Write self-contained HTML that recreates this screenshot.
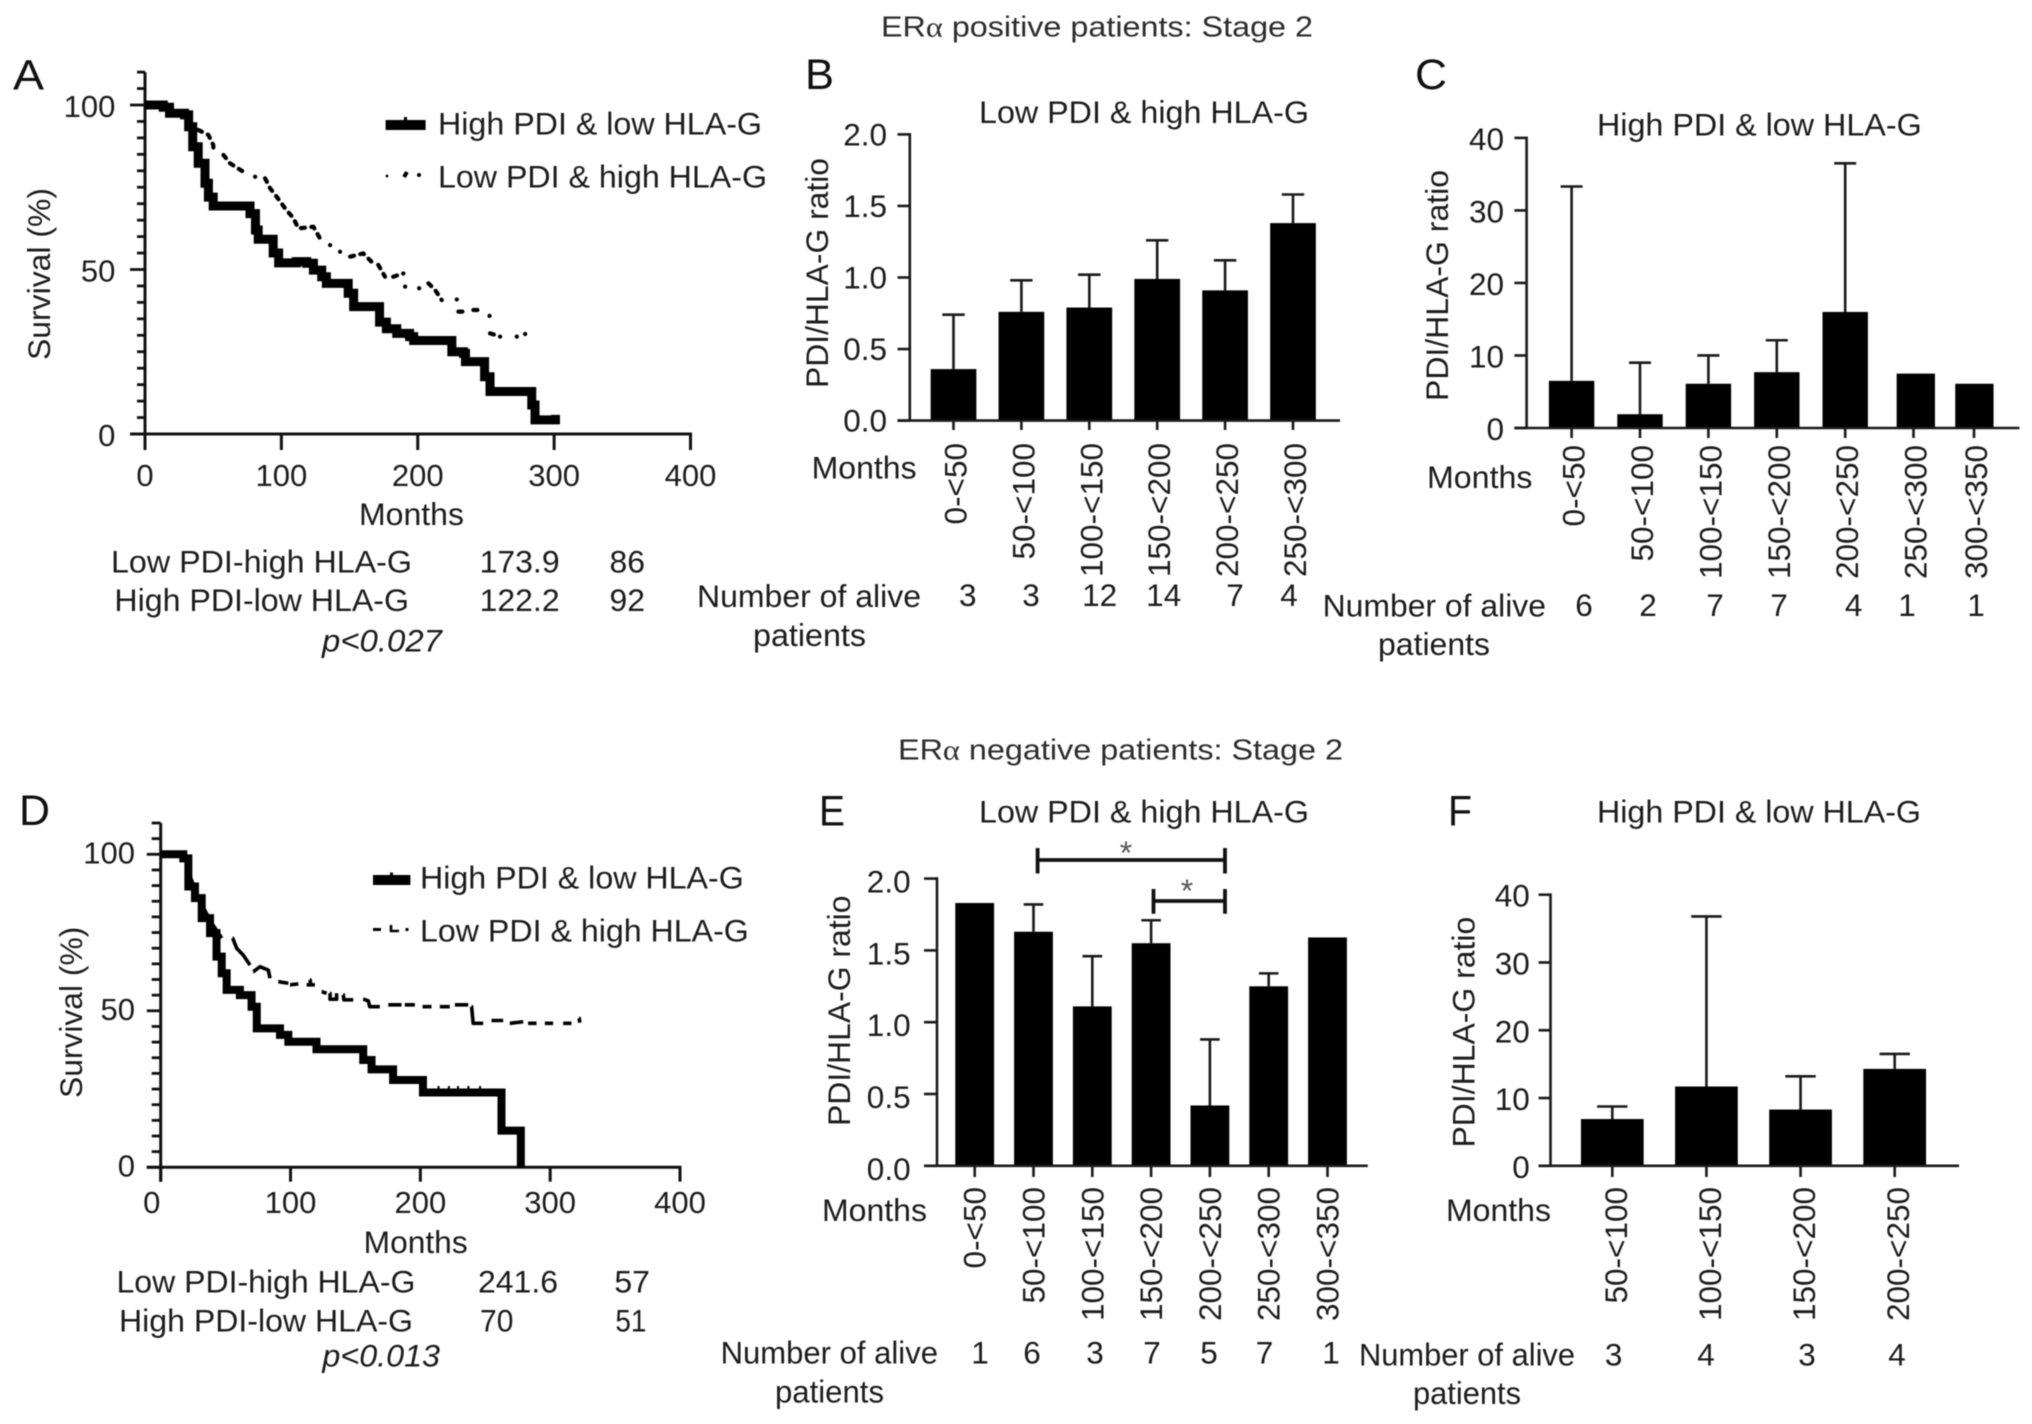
<!DOCTYPE html>
<html lang="en">
<head>
<meta charset="utf-8">
<title>ERα patients Stage 2: survival and PDI/HLA-G ratio</title>
<style>
html,body{margin:0;padding:0;background:#fff;width:2032px;height:1424px;overflow:hidden}
svg{display:block;filter:blur(0.5px)}
text{font-family:"Liberation Sans",Arial,sans-serif;font-size:31.5px;fill:#1c1c1c}
.hdr{fill:#2c2c2c;font-size:29px}
.let{font-size:43px;fill:#111}
.it{font-style:italic}
.n{text-anchor:middle}
.gk{font-family:"Liberation Serif",serif}
.star{font-size:32px;fill:#555;text-anchor:middle}
</style>
</head>
<body>
<svg id="figure" width="2032" height="1424" viewBox="0 0 2032 1424">
<rect x="0" y="0" width="2032" height="1424" fill="#fff"/>

<text class="hdr" x="881" y="36.4" textLength="432" lengthAdjust="spacingAndGlyphs">ER<tspan class="gk">α</tspan> positive patients: Stage 2</text>
<text class="hdr" x="898" y="759.5" textLength="445" lengthAdjust="spacingAndGlyphs">ER<tspan class="gk">α</tspan> negative patients: Stage 2</text>

<!-- Panel A -->
<g id="panel-a">
<text class="let" x="13" y="89.3" textLength="31" lengthAdjust="spacingAndGlyphs">A</text>
<text transform="translate(50,360) rotate(-90)" textLength="172" lengthAdjust="spacingAndGlyphs">Survival (%)</text>
<text x="359" y="525" textLength="105" lengthAdjust="spacingAndGlyphs">Months</text>
<rect x="385.6" y="120" width="40" height="10" fill="#000"/>
<rect x="404" y="117" width="3" height="4" fill="#000"/>
<text x="438" y="134.3" textLength="324" lengthAdjust="spacingAndGlyphs">High PDI &amp; low HLA-G</text>
<circle cx="387" cy="176" r="1.4" fill="#000"/>
<path d="M404 177 L407 172" stroke="#000" stroke-width="4" fill="none"/>
<circle cx="419" cy="175" r="2" fill="#000"/>
<text x="438" y="187.7" textLength="329" lengthAdjust="spacingAndGlyphs">Low PDI &amp; high HLA-G</text>
<text x="111" y="572.3" textLength="301" lengthAdjust="spacingAndGlyphs">Low PDI-high HLA-G</text>
<text x="479.6" y="572.3" textLength="80" lengthAdjust="spacingAndGlyphs">173.9</text>
<text x="609.5" y="572.3" textLength="35.5" lengthAdjust="spacingAndGlyphs">86</text>
<text x="114.4" y="611" textLength="294.6" lengthAdjust="spacingAndGlyphs">High PDI-low HLA-G</text>
<text x="479.6" y="611" textLength="80" lengthAdjust="spacingAndGlyphs">122.2</text>
<text x="609.5" y="611" textLength="35.5" lengthAdjust="spacingAndGlyphs">92</text>
<text class="it" x="322" y="651.7" textLength="120" lengthAdjust="spacingAndGlyphs">p&lt;0.027</text>
</g>

<!-- Panel B -->
<g id="panel-b">
<text class="let" x="805" y="89" textLength="29" lengthAdjust="spacingAndGlyphs">B</text>
<text x="979" y="123" textLength="330" lengthAdjust="spacingAndGlyphs">Low PDI &amp; high HLA-G</text>
<text transform="translate(828,388) rotate(-90)" textLength="230" lengthAdjust="spacingAndGlyphs">PDI/HLA-G ratio</text>
<text x="811.6" y="478.3" textLength="105" lengthAdjust="spacingAndGlyphs">Months</text>
<text x="697" y="607" textLength="224" lengthAdjust="spacingAndGlyphs">Number of alive</text>
<text x="753" y="646" textLength="113" lengthAdjust="spacingAndGlyphs">patients</text>
<text class="n" x="967.8" y="606">3</text>
<text class="n" x="1031" y="606">3</text>
<text class="n" x="1099.6" y="606">12</text>
<text class="n" x="1163.7" y="606">14</text>
<text class="n" x="1235" y="606">7</text>
<text class="n" x="1289" y="606">4</text>
</g>

<!-- Panel C -->
<g id="panel-c">
<text class="let" x="1415" y="89" textLength="32" lengthAdjust="spacingAndGlyphs">C</text>
<text x="1597" y="135.7" textLength="324.7" lengthAdjust="spacingAndGlyphs">High PDI &amp; low HLA-G</text>
<text transform="translate(1448,401) rotate(-90)" textLength="231" lengthAdjust="spacingAndGlyphs">PDI/HLA-G ratio</text>
<text x="1427" y="488" textLength="105.5" lengthAdjust="spacingAndGlyphs">Months</text>
<text x="1322.6" y="616.5" textLength="223.4" lengthAdjust="spacingAndGlyphs">Number of alive</text>
<text x="1378" y="655" textLength="112" lengthAdjust="spacingAndGlyphs">patients</text>
<text class="n" x="1584" y="616">6</text>
<text class="n" x="1648" y="616">2</text>
<text class="n" x="1715" y="616">7</text>
<text class="n" x="1779" y="616">7</text>
<text class="n" x="1853.6" y="616">4</text>
<text class="n" x="1907" y="616">1</text>
<text class="n" x="1976" y="616">1</text>
</g>

<!-- Panel D -->
<g id="panel-d">
<text class="let" x="19" y="825" textLength="31" lengthAdjust="spacingAndGlyphs">D</text>
<text transform="translate(82,1098) rotate(-90)" textLength="171.3" lengthAdjust="spacingAndGlyphs">Survival (%)</text>
<text x="363.7" y="1253" textLength="104" lengthAdjust="spacingAndGlyphs">Months</text>
<rect x="373" y="875" width="37.4" height="10" fill="#000"/>
<rect x="390" y="872.5" width="3" height="3" fill="#000"/>
<text x="420" y="888.3" textLength="323.8" lengthAdjust="spacingAndGlyphs">High PDI &amp; low HLA-G</text>
<rect x="373" y="928" width="8" height="3" fill="#000"/>
<path d="M391 925 V931 H399" stroke="#000" stroke-width="2.6" fill="none"/>
<rect x="405.5" y="928" width="3" height="3" fill="#000"/>
<text x="420" y="941.7" textLength="328.8" lengthAdjust="spacingAndGlyphs">Low PDI &amp; high HLA-G</text>
<text x="116.5" y="1292.7" textLength="298.9" lengthAdjust="spacingAndGlyphs">Low PDI-high HLA-G</text>
<text x="478" y="1292.7" textLength="80" lengthAdjust="spacingAndGlyphs">241.6</text>
<text x="614.4" y="1292.7" textLength="35.6" lengthAdjust="spacingAndGlyphs">57</text>
<text x="119" y="1331.7" textLength="294" lengthAdjust="spacingAndGlyphs">High PDI-low HLA-G</text>
<text x="480" y="1331.7" textLength="33.4" lengthAdjust="spacingAndGlyphs">70</text>
<text x="615.4" y="1331.7" textLength="31" lengthAdjust="spacingAndGlyphs">51</text>
<text class="it" x="322.4" y="1366.7" textLength="117.6" lengthAdjust="spacingAndGlyphs">p&lt;0.013</text>
</g>

<!-- Panel E -->
<g id="panel-e">
<text class="let" x="819" y="825.6" textLength="26" lengthAdjust="spacingAndGlyphs">E</text>
<text x="979" y="822.7" textLength="330" lengthAdjust="spacingAndGlyphs">Low PDI &amp; high HLA-G</text>
<text transform="translate(850,1126) rotate(-90)" textLength="230.5" lengthAdjust="spacingAndGlyphs">PDI/HLA-G ratio</text>
<text x="822" y="1220.8" textLength="105" lengthAdjust="spacingAndGlyphs">Months</text>
<path d="M1037.6 848 V873.5 M1037.6 860 H1225 M1225 848 V873.5" stroke="#111" stroke-width="3.8" fill="none"/>
<text class="star" x="1126" y="864">*</text>
<path d="M1153.5 889 V913.7 M1153.5 901 H1225 M1225 889 V913.7" stroke="#111" stroke-width="3.8" fill="none"/>
<text class="star" x="1187" y="902">*</text>
<text x="720.6" y="1363.6" textLength="217.4" lengthAdjust="spacingAndGlyphs">Number of alive</text>
<text x="775" y="1402.7" textLength="109" lengthAdjust="spacingAndGlyphs">patients</text>
<text class="n" x="980" y="1363.6">1</text>
<text class="n" x="1032" y="1363.6">6</text>
<text class="n" x="1095" y="1363.6">3</text>
<text class="n" x="1152" y="1363.6">7</text>
<text class="n" x="1209" y="1363.6">5</text>
<text class="n" x="1264.5" y="1363.6">7</text>
<text class="n" x="1331" y="1363.6">1</text>
</g>

<!-- Panel F -->
<g id="panel-f">
<text class="let" x="1448" y="825.6" textLength="24" lengthAdjust="spacingAndGlyphs">F</text>
<text x="1597" y="822.7" textLength="324" lengthAdjust="spacingAndGlyphs">High PDI &amp; low HLA-G</text>
<text transform="translate(1474.6,1147.5) rotate(-90)" textLength="230.8" lengthAdjust="spacingAndGlyphs">PDI/HLA-G ratio</text>
<text x="1446" y="1220.8" textLength="105" lengthAdjust="spacingAndGlyphs">Months</text>
<text x="1359" y="1365.7" textLength="216" lengthAdjust="spacingAndGlyphs">Number of alive</text>
<text x="1413" y="1403.8" textLength="108" lengthAdjust="spacingAndGlyphs">patients</text>
<text class="n" x="1613.6" y="1365.7">3</text>
<text class="n" x="1706" y="1365.7">4</text>
<text class="n" x="1807" y="1365.7">3</text>
<text class="n" x="1897" y="1365.7">4</text>
</g>
</svg>

<script>
/* ---------- Survival data (months, percent); null starts a new visible fragment ---------- */
const kmXTicks = [0, 100, 200, 300, 400];
const kmXTickLabels = ['0', '100', '200', '300', '400'];
const kmYTicks = [0, 5, 10, 15, 20, 25, 30, 35, 40, 45, 50, 55, 60, 65, 70, 75, 80, 85, 90, 95, 100, 105, 110];
const kmYMajorTicks = [0, 50, 100];
const kmYTickLabels = ['0', '50', '100'];

const panelAHighMonths = [0, 13.4, 18, 29, 32, 35, 39, 44, 46.5, 50, 73, 77, 81, 83, 92, 94, 98, 111, 118.6, 123.5, 129.6, 133, 146.7, 149, 153, 168.7, 172, 177, 184.6, 194, 197, 222.5, 225, 233.5, 235, 249, 249, 253, 281, 283.6, 286, 298, 301];
const panelAHighSurvival = [100, 99.3, 97.5, 97, 93.4, 87.3, 82.3, 76.2, 72, 69.3, 69.3, 67, 62, 59.2, 59.2, 55, 52, 52.4, 51.9, 49.8, 47.8, 45.8, 45.8, 42.8, 38.7, 38.7, 34, 32, 30.6, 29.6, 28.4, 28.4, 25, 24.5, 22, 22, 17.4, 12.9, 12.9, 8.8, 4.3, 4.3, 5.8];
const panelALowMonths = [39.1, 46.5, 50.1, 50.1, null, 57.5, 62.3, 73.3, null, 80.7, null, 88, 91.7, 96.6, 102.7, 108.8, 112.5, 123.5, 129.6, null, 135.7, null, 143, null, 150.4, 160, 166, null, 171, 176, null, 182, 189.5, null, 190.7, null, 201, null, 207.8, 212.7, 217.6, null, 228.6, null, 229.8, 236, null, 240.8, 244.5, null, 252.6, null, 253, 260.4, null, 272.6, null, 278.7];
const panelALowSurvival = [92.4, 90.9, 87.8, 85.3, null, 84.8, 82.3, 79.4, null, 78.2, null, 77.7, 74.7, 72.1, 68.6, 65.6, 62.5, 63, 58.5, null, 57.4, null, 55.4, null, 53.9, 54.9, 52.4, null, 51.4, 47.8, null, 47.8, 48.8, null, 44.8, null, 44.3, null, 45.8, 43.8, 40.7, null, 40.9, null, 37.2, 37.2, null, 37.7, 37.7, null, 35.9, null, 30.6, 29.6, null, 29.6, null, 30.4];

const panelDHighMonths = [0, 16.2, 17.4, 21.3, 21.3, 26.4, 31.6, 38, 43, 47, 50.8, 61, 70, 74, 89.3, 91.9, 98.3, 98.3, 120, 120, 153.5, 156, 162.4, 162.4, 179, 179, 202, 202, 262.5, 262.5, 277.4, 277.4];
const panelDHighSurvival = [100, 100, 98.7, 96.6, 89.7, 86, 79.6, 74.8, 67.3, 62, 56.7, 55, 51.3, 44.4, 44.4, 42.3, 42.3, 40.1, 40.1, 37.7, 37.7, 34.3, 34.3, 31.3, 31.3, 27.9, 27.9, 23.9, 23.9, 11.7, 11.7, 0];
const panelDHighCensorMonths = [214, 222, 229, 237, 246];
const panelDHighCensorSurvival = [23.9, 23.9, 23.9, 23.9, 23.9];
const panelDLowMonths = [22, 30.3, 39.3, 47, null, 55.4, 58.5, 63.6, 68.8, null, 71.3, 76.5, 82.9, 84.2, null, 90.6, 98.3, null, 99.6, 106, null, 112.4, 118.8, null, 115, 115.5, null, 124, 127.8, null, 130.4, 130.4, 135.5, 135.5, null, 140.6, 141.1, 148.3, null, 156, 159.9, 161, 168.8, null, 175.3, 185.5, null, 188, 195.8, null, 201.7, 208.6, null, 215, 222.7, null, 226.6, 236.9, null, 239.4, 240.7, 248.4, null, 254.8, 263.8, null, 268.9, 279.2, null, 283, 289.5, null, 295.9, 302.3, null, 310, 316.4, null, 322.3, 322.8];
const panelDLowSurvival = [93.5, 84.9, 78, 73.2, null, 73.2, 70, 67.8, 64.6, null, 62.5, 64.1, 63, 60.4, null, 59.3, 58.8, null, 58.3, 58.6, null, 58.3, 58.3, null, 59.9, 58.3, null, 56.1, 55.6, null, 55.6, 53.7, 53.7, 55.6, null, 55.1, 53.5, 53.5, null, 53.7, 53.2, 51.3, 51.3, null, 51.9, 51.9, null, 51.9, 51.9, null, 51.3, 51.3, null, 51.3, 51.3, null, 51.9, 51.9, null, 51.3, 46, 46, null, 46.9, 46.9, null, 46, 46.5, null, 46, 46, null, 46, 46, null, 46, 46, null, 47.6, 46.2];

/* ---------- Bar data ---------- */
const ratioTicks = [0, 0.5, 1, 1.5, 2];
const ratioTickLabels = ['0.0', '0.5', '1.0', '1.5', '2.0'];
const wideTicks = [0, 10, 20, 30, 40];
const wideTickLabels = ['0', '10', '20', '30', '40'];

const panelBCategories = ['0-<50', '50-<100', '100-<150', '150-<200', '200-<250', '250-<300'];
const panelBMeans = [0.36, 0.76, 0.79, 0.99, 0.91, 1.38];
const panelBUpper = [0.74, 0.98, 1.02, 1.26, 1.12, 1.58];

const panelCCategories = ['0-<50', '50-<100', '100-<150', '150-<200', '200-<250', '250-<300', '300-<350'];
const panelCMeans = [6.5, 1.9, 6.1, 7.7, 16, 7.5, 6.1];
const panelCUpper = [33.3, 9, 10, 12.1, 36.5, null, null];

const panelECategories = ['0-<50', '50-<100', '100-<150', '150-<200', '200-<250', '250-<300', '300-<350'];
const panelEMeans = [1.83, 1.63, 1.11, 1.55, 0.42, 1.25, 1.59];
const panelEUpper = [null, 1.82, 1.46, 1.71, 0.88, 1.34, null];

const panelFCategories = ['50-<100', '100-<150', '150-<200', '200-<250'];
const panelFMeans = [6.9, 11.7, 8.3, 14.3];
const panelFUpper = [8.75, 36.8, 13.2, 16.5];

/* ---------- Helpers ---------- */
const SVG_NS = 'http://www.w3.org/2000/svg';
function mk(parent, tag, attrs) {
  const el = document.createElementNS(SVG_NS, tag);
  for (const k in attrs) el.setAttribute(k, attrs[k]);
  parent.appendChild(el);
  return el;
}
function linear(d0, d1, r0, r1) {
  return function (v) { return r0 + (v - d0) * (r1 - r0) / (d1 - d0); };
}

/* ---------- Kaplan-Meier axes and lines ---------- */
function drawKmAxes(g, cfg) {
  const x = cfg.x, y = cfg.y;
  const yAxis = mk(g, 'line', {x1: x(0), x2: x(0), y1: y(110), y2: cfg.tickBottom, stroke: '#111', 'stroke-width': 3});
  
  
  const xAxis = mk(g, 'line', {x1: cfg.majorLeft, x2: x(400) + 1.5, y1: y(0), y2: y(0), stroke: '#111', 'stroke-width': 3});
  
  
  kmYTicks.forEach(function (v) {
    const isMajor = kmYMajorTicks.indexOf(v) >= 0;
    const tick = mk(g, 'line', {x1: isMajor ? cfg.majorLeft : cfg.minorLeft, x2: x(0), y1: y(v), y2: y(v), stroke: '#111', 'stroke-width': 2.8});
    
    
  });
  kmYMajorTicks.forEach(function (v, i) {
    const label = mk(g, 'text', {x: cfg.labelRight, y: y(v) + cfg.labelDy, 'text-anchor': 'end', style: 'font-size:31px'});
    label.textContent = kmYTickLabels[i];
    
    
  });
  kmXTicks.forEach(function (v, i) {
    const tick = mk(g, 'line', {x1: x(v), x2: x(v), y1: y(0), y2: cfg.tickBottom, stroke: '#111', 'stroke-width': 3});
    
    
    const shift = v === 0 ? cfg.zeroShift : 0;
    const label = mk(g, 'text', {x: x(v) + shift, y: cfg.xLabelBase, 'text-anchor': 'middle', style: 'font-size:31px'});
    label.textContent = kmXTickLabels[i];
    
    
  });
}
/* Straight fragments for the sparse curves; step-after for the solid Kaplan-Meier curves. */
function kmPath(cfg, months, survival, stepped) {
  let d = '', start = true, prevY = 0;
  months.forEach(function (m, i) {
    if (m === null || survival[i] === null) { start = true; return; }
    const px = cfg.x(m).toFixed(2), py = cfg.y(survival[i]).toFixed(2);
    if (start) { d += 'M' + px + ' ' + py + ' h0.1 '; start = false; }
    else if (stepped) { d += 'L' + px + ' ' + prevY + ' L' + px + ' ' + py + ' '; }
    else { d += 'L' + px + ' ' + py + ' '; }
    prevY = py;
  });
  return d;
}

const kmA = {
  x: linear(0, 400, 145, 690.5), y: linear(0, 100, 434, 105),
  majorLeft: 130, minorLeft: 137, tickBottom: 450,
  labelRight: 115.4, labelDy: 12, xLabelBase: 486, zeroShift: 0
};
const kmD = {
  x: linear(0, 400, 160.7, 680), y: linear(0, 100, 1167.3, 854.3),
  majorLeft: 146.8, minorLeft: 151.7, tickBottom: 1181.7,
  labelRight: 135, labelDy: 9, xLabelBase: 1213, zeroShift: -9
};

const groupA = document.getElementById('panel-a');
drawKmAxes(groupA, kmA);
const lowLineA = mk(groupA, 'path', {d: kmPath(kmA, panelALowMonths, panelALowSurvival, false), fill: 'none', stroke: '#000', 'stroke-width': 4.2, 'stroke-linecap': 'round', 'stroke-linejoin': 'round', 'stroke-dasharray': '4 6.5'});


const highLineA = mk(groupA, 'path', {d: kmPath(kmA, panelAHighMonths, panelAHighSurvival, true), fill: 'none', stroke: '#000', 'stroke-width': 9, 'stroke-linejoin': 'miter'});



const groupD = document.getElementById('panel-d');
drawKmAxes(groupD, kmD);
const lowLineD = mk(groupD, 'path', {d: kmPath(kmD, panelDLowMonths, panelDLowSurvival, false), fill: 'none', stroke: '#000', 'stroke-width': 3.6, 'stroke-linejoin': 'round'});


const highLineD = mk(groupD, 'path', {d: kmPath(kmD, panelDHighMonths, panelDHighSurvival, true), fill: 'none', stroke: '#000', 'stroke-width': 8, 'stroke-linejoin': 'miter'});


panelDHighCensorMonths.forEach(function (m, i) {
  const mark = mk(groupD, 'line', {x1: kmD.x(m), x2: kmD.x(m), y1: kmD.y(panelDHighCensorSurvival[i]), y2: kmD.y(panelDHighCensorSurvival[i]) - 6.5, stroke: '#000', 'stroke-width': 2});
  
  
});

/* ---------- Bar panels ---------- */
function drawBarPanel(g, cfg, categories, means, upper, ticks, tickLabels) {
  const y = cfg.y;
  means.forEach(function (v, i) {
    const w = cfg.barWidth(i), cx = cfg.barCenter(i);
    if (upper[i] !== null) {
      const stem = mk(g, 'line', {x1: cfg.tickAt(i), x2: cfg.tickAt(i), y1: y(v), y2: y(upper[i]), stroke: '#1a1a1a', 'stroke-width': 2.6});
      
      
      const cap = mk(g, 'line', {x1: cfg.tickAt(i) - cfg.capHalf, x2: cfg.tickAt(i) + cfg.capHalf, y1: y(upper[i]), y2: y(upper[i]), stroke: '#1a1a1a', 'stroke-width': 2.6});
      
      
    }
    const bar = mk(g, 'rect', {x: cx - w / 2, y: y(v), width: w, height: y(0) - y(v), fill: '#000'});
    
    
  });
  const yAxis = mk(g, 'line', {x1: cfg.axisX, x2: cfg.axisX, y1: y(cfg.yMax) - 1.3, y2: y(0), stroke: '#1a1a1a', 'stroke-width': 2.6});
  
  
  const xAxis = mk(g, 'line', {x1: cfg.tickLeft, x2: cfg.xRight, y1: y(0), y2: y(0), stroke: '#1a1a1a', 'stroke-width': 2.6});
  
  
  ticks.forEach(function (v, i) {
    const tick = mk(g, 'line', {x1: cfg.tickLeft, x2: cfg.axisX, y1: y(v), y2: y(v), stroke: '#1a1a1a', 'stroke-width': 2.6});
    
    
    const label = mk(g, 'text', {x: cfg.labelRight, y: y(v) + cfg.labelDy, 'text-anchor': 'end'});
    label.textContent = tickLabels[i];
    
    
  });
  categories.forEach(function (c, i) {
    const tx = cfg.tickAt(i);
    const tick = mk(g, 'line', {x1: tx, x2: tx, y1: y(0), y2: cfg.tickBottom, stroke: '#1a1a1a', 'stroke-width': 2.6});
    
    
    const label = mk(g, 'text', {'text-anchor': 'end', transform: 'translate(' + (tx + cfg.catOffset) + ',' + cfg.catEndY + ') rotate(-90)'});
    label.textContent = c;
    
    
  });
}

drawBarPanel(document.getElementById('panel-b'), {
  y: linear(0, 2, 420.6, 134.4), yMax: 2, axisX: 909.8, tickLeft: 897.5, xRight: 1340, tickBottom: 430,
  tickAt: function (i) { return 953.5 + 67.9 * i; }, barCenter: function (i) { return 953.5 + 67.9 * i; },
  barWidth: function () { return 45.7; }, capHalf: 11.2, labelRight: 887, labelDy: 11, catOffset: 13, catEndY: 443
}, panelBCategories, panelBMeans, panelBUpper, ratioTicks, ratioTickLabels);

drawBarPanel(document.getElementById('panel-c'), {
  y: linear(0, 40, 428, 137.9), yMax: 40, axisX: 1526.6, tickLeft: 1514.4, xRight: 2019.4, tickBottom: 438,
  tickAt: function (i) { return i < 5 ? 1571.6 + 68.4 * i : 1913.5 + 60.5 * (i - 5); },
  barCenter: function (i) { return i < 5 ? 1571.6 + 68.4 * i : 1915.8 + 58.6 * (i - 5); },
  barWidth: function (i) { return i < 5 ? 45.4 : 38.3; }, capHalf: 11, labelRight: 1504, labelDy: 12, catOffset: 13, catEndY: 445
}, panelCCategories, panelCMeans, panelCUpper, wideTicks, wideTickLabels);

drawBarPanel(document.getElementById('panel-e'), {
  y: linear(0, 2, 1165.8, 878.6), yMax: 2, axisX: 937, tickLeft: 924, xRight: 1367.8, tickBottom: 1177,
  tickAt: function (i) { return 974.7 + 58.8 * i; }, barCenter: function (i) { return 974.7 + 58.8 * i; },
  barWidth: function () { return 38.8; }, capHalf: 9.8, labelRight: 910.6, labelDy: 14, catOffset: 11, catEndY: 1187
}, panelECategories, panelEMeans, panelEUpper, ratioTicks, ratioTickLabels);

drawBarPanel(document.getElementById('panel-f'), {
  y: linear(0, 40, 1165.8, 894.7), yMax: 40, axisX: 1550.5, tickLeft: 1538.6, xRight: 1959, tickBottom: 1177,
  tickAt: function (i) { return 1612.3 + 94.13 * i; }, barCenter: function (i) { return 1612.3 + 94.13 * i; },
  barWidth: function () { return 62.7; }, capHalf: 15.2, labelRight: 1529.8, labelDy: 12, catOffset: 14.5, catEndY: 1187
}, panelFCategories, panelFMeans, panelFUpper, wideTicks, wideTickLabels);
</script>
</body>
</html>
